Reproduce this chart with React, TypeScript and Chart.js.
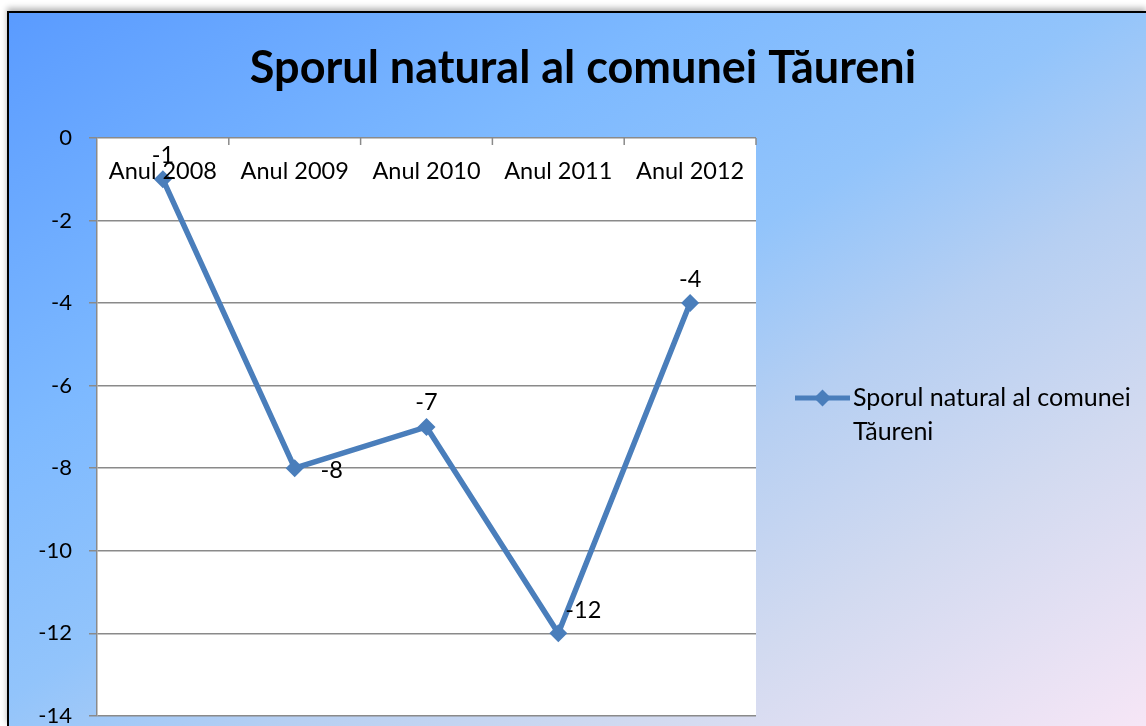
import React, { useEffect, useRef } from "react";
import { Chart, registerables } from "chart.js";

Chart.register(...registerables);

const title = "Sporul natural al comunei Tăureni";
const categories = ["Anul 2008", "Anul 2009", "Anul 2010", "Anul 2011", "Anul 2012"];
const seriesName = "Sporul natural al comunei Tăureni";
const legendLines = ["Sporul natural al comunei", "Tăureni"];
const values = [-1, -8, -7, -12, -4];
const yMin = -14;
const yMax = 0;
const yStep = 2;
// label placement offsets (style only)
const labelOffsets = [
  [0, -24],
  [37, 2],
  [0, -24],
  [25, -23],
  [0, -24],
];

const FONT = "Lato, 'Open Sans', sans-serif";
const LINE = "#4A7EBB";

const overlay = {
  id: "overlay",
  beforeDraw(chart: any) {
    const { ctx, chartArea } = chart;
    ctx.save();
    ctx.fillStyle = "#ffffff";
    ctx.fillRect(chartArea.left, chartArea.top, chartArea.right - chartArea.left, chartArea.bottom - chartArea.top);
    ctx.restore();
  },
  afterDraw(chart: any) {
    const { ctx, chartArea } = chart;
    const xs = chart.scales.x;
    ctx.save();
    // title
    ctx.fillStyle = "#000";
    ctx.font = `bold 45px ${FONT}`;
    ctx.textAlign = "center";
    ctx.textBaseline = "middle";
    ctx.fillText(title, 574, 55);
    // x tick marks (inward, at category boundaries)
    ctx.strokeStyle = "#8a8a8a";
    ctx.lineWidth = 1.5;
    const half = (xs.getPixelForValue(1) - xs.getPixelForValue(0)) / 2;
    for (let i = 0; i < categories.length; i++) {
      const bx = xs.getPixelForValue(i) + half;
      ctx.beginPath();
      ctx.moveTo(bx, chartArea.top);
      ctx.lineTo(bx, chartArea.top + 7);
      ctx.stroke();
    }
    // category labels inside plot near top axis
    ctx.fillStyle = "#000";
    ctx.font = `23.5px ${FONT}`;
    categories.forEach((c, i) => {
      ctx.fillText(c, xs.getPixelForValue(i), chartArea.top + 33);
    });
    // data labels
    const meta = chart.getDatasetMeta(0);
    meta.data.forEach((pt: any, i: number) => {
      const [dx, dy] = labelOffsets[i];
      ctx.fillText(String(values[i]), pt.x + dx, pt.y + dy);
    });
    // legend
    const lx0 = chartArea.right + 39;
    const lx1 = lx0 + 55;
    const ly = chartArea.top + 260;
    ctx.strokeStyle = LINE;
    ctx.lineWidth = 5;
    ctx.beginPath();
    ctx.moveTo(lx0, ly);
    ctx.lineTo(lx1, ly);
    ctx.stroke();
    const cx = (lx0 + lx1) / 2;
    const r = 8.5;
    ctx.fillStyle = LINE;
    ctx.beginPath();
    ctx.moveTo(cx - r, ly);
    ctx.lineTo(cx, ly - r);
    ctx.lineTo(cx + r, ly);
    ctx.lineTo(cx, ly + r);
    ctx.closePath();
    ctx.fill();
    ctx.fillStyle = "#000";
    ctx.textAlign = "left";
    ctx.font = `25px ${FONT}`;
    legendLines.forEach((t, i) => {
      ctx.fillText(t, lx1 + 3, ly + i * 34);
    });
    ctx.restore();
  },
};

export default function App() {
  const ref = useRef<HTMLCanvasElement>(null);
  useEffect(() => {
    if (!ref.current) return;
    const chart = new Chart(ref.current, {
      type: "line",
      data: {
        labels: categories,
        datasets: [
          {
            label: seriesName,
            data: values,
            borderColor: LINE,
            backgroundColor: LINE,
            borderWidth: 5.5,
            pointStyle: "rectRot",
            pointRadius: 9,
            pointBorderWidth: 0,
            pointBackgroundColor: LINE,
            tension: 0,
          },
        ],
      },
      options: {
        animation: false,
        responsive: false,
        layout: { padding: { left: 0, right: 390, top: 125, bottom: 11 } },
        plugins: {
          legend: { display: false },
          tooltip: { enabled: false },
          title: { display: false },
        },
        scales: {
          x: {
            type: "category",
            offset: true,
            display: false,
          },
          y: {
            min: yMin,
            max: yMax,
            afterFit: (s: any) => {
              s.width = 88;
            },
            ticks: {
              stepSize: yStep,
              color: "#000",
              font: { family: FONT, size: 22 },
              padding: 17,
            },
            grid: {
              color: "#8a8a8a",
              lineWidth: 1.5,
              tickLength: 8,
            },
            border: { display: true, color: "#8a8a8a", width: 1.5 },
          },
        },
      },
      plugins: [overlay],
    });
    return () => chart.destroy();
  }, []);
  return (
    <div
      style={{
        position: "fixed",
        left: 7,
        top: 11,
        right: 0,
        bottom: 0,
        borderLeft: "2px solid #000",
        borderTop: "2px solid #000",
        boxShadow: "0 -3px 6px rgba(0,0,0,0.3)",
        background:
          "linear-gradient(to bottom right, #5a9bff 0%, #7db9ff 30%, #92c4fb 48%, #b6cff2 62%, #d2daf0 78%, #f6e6f6 100%)",
        overflow: "hidden",
      }}
    >
      <canvas ref={ref} width={1137} height={733} style={{ display: "block" }} />
    </div>
  );
}
